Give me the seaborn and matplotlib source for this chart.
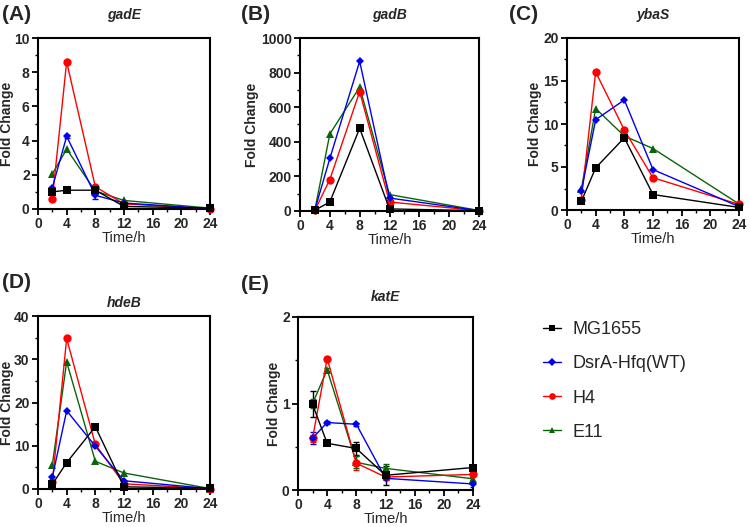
import numpy as np
import pandas as pd
import matplotlib
matplotlib.use("Agg")
import matplotlib.pyplot as plt
from matplotlib.ticker import MultipleLocator, AutoMinorLocator
from matplotlib.lines import Line2D
import seaborn as sns

sns.set_theme(style="ticks")
plt.rcParams['font.family'] = ['Liberation Sans', 'DejaVu Sans']

time_h = [2, 4, 8, 12, 24]
strains = ["MG1655", "DsrA-Hfq(WT)", "H4", "E11"]
colors = {"MG1655": "#000000", "DsrA-Hfq(WT)": "#0000ee", "H4": "#ff0000", "E11": "#0a640a"}
markers = {"MG1655": "s", "DsrA-Hfq(WT)": "D", "H4": "o", "E11": "^"}
msizes = {"MG1655": 6, "DsrA-Hfq(WT)": 4.5, "H4": 6, "E11": 6}

genes = ["gadE", "gadB", "ybaS", "hdeB", "katE"]
panel_labels = ["(A)", "(B)", "(C)", "(D)", "(E)"]
ymax = {"gadE": 10, "gadB": 1000, "ybaS": 20, "hdeB": 40, "katE": 2}
ystep = {"gadE": 2, "gadB": 200, "ybaS": 5, "hdeB": 10, "katE": 1}

gadE_MG1655 = [1.0, 1.1, 1.1, 0.15, 0.05]
gadE_DsrA = [1.25, 4.25, 0.8, 0.35, 0.02]
gadE_H4 = [0.6, 8.6, 1.3, 0.3, 0.02]
gadE_E11 = [2.05, 3.5, 1.05, 0.5, 0.05]

gadB_MG1655 = [5, 52, 478, 12, 2]
gadB_DsrA = [8, 304, 865, 75, 2]
gadB_H4 = [5, 182, 690, 52, 2]
gadB_E11 = [8, 445, 716, 95, 3]

ybaS_MG1655 = [1.0, 4.9, 8.4, 1.8, 0.3]
ybaS_DsrA = [2.2, 10.5, 12.8, 4.7, 0.4]
ybaS_H4 = [1.2, 16.05, 9.3, 3.75, 0.65]
ybaS_E11 = [2.4, 11.8, 8.6, 7.15, 0.7]

hdeB_MG1655 = [1.1, 6.1, 14.4, 0.5, 0.2]
hdeB_DsrA = [2.7, 18.1, 9.9, 1.9, 0.1]
hdeB_H4 = [1.6, 34.8, 10.3, 1.2, 0.1]
hdeB_E11 = [5.6, 29.4, 6.4, 3.7, 0.1]

katE_MG1655 = [0.99, 0.54, 0.48, 0.17, 0.26]
katE_DsrA = [0.60, 0.78, 0.76, 0.135, 0.07]
katE_H4 = [0.60, 1.52, 0.31, 0.15, 0.18]
katE_E11 = [1.00, 1.39, 0.32, 0.25, 0.13]

# error bars (SD) where visible
katE_err_MG1655 = [0.15, 0.02, 0.08, 0.11, 0.02]
katE_err_DsrA = [0.07, 0.02, 0.02, 0.02, 0.04]
katE_err_H4 = [0.04, 0.02, 0.08, 0.02, 0.03]
katE_err_E11 = [0.05, 0.02, 0.07, 0.05, 0.02]
gadE_err_DsrA = [0.05, 0.1, 0.2, 0.05, 0.01]

data = {
    "gadE": [gadE_MG1655, gadE_DsrA, gadE_H4, gadE_E11],
    "gadB": [gadB_MG1655, gadB_DsrA, gadB_H4, gadB_E11],
    "ybaS": [ybaS_MG1655, ybaS_DsrA, ybaS_H4, ybaS_E11],
    "hdeB": [hdeB_MG1655, hdeB_DsrA, hdeB_H4, hdeB_E11],
    "katE": [katE_MG1655, katE_DsrA, katE_H4, katE_E11],
}
errors = {
    "katE": [katE_err_MG1655, katE_err_DsrA, katE_err_H4, katE_err_E11],
    "gadE": [None, gadE_err_DsrA, None, None],
}

W, H = 750, 527
boxes = {  # left, right, top, bottom in pixels
    "gadE": (38, 210, 38, 209),
    "gadB": (300, 479, 38, 211),
    "ybaS": (567, 739, 38, 210),
    "hdeB": (38, 210, 316, 489),
    "katE": (298, 473, 317, 490),
}
ylabel_x = {"gadE": 14, "gadB": 259, "ybaS": 542, "hdeB": 14, "katE": 281}
title_y = {"gadE": 15, "gadB": 15, "ybaS": 15, "hdeB": 303, "katE": 297}
plabel_pos = {"gadE": (2, 14), "gadB": (241, 14), "ybaS": (509, 14),
              "hdeB": (2, 282), "katE": (241, 284)}

fig = plt.figure(figsize=(7.5, 5.27), dpi=100)

for gene, plabel in zip(genes, panel_labels):
    l, r, t, b = boxes[gene]
    ax = fig.add_axes([l / W, 1 - b / H, (r - l) / W, (b - t) / H])
    rows = []
    for s, vals in zip(strains, data[gene]):
        for x, v in zip(time_h, vals):
            rows.append({"Time": x, "Fold": v, "Strain": s})
    df = pd.DataFrame(rows)
    order = list(reversed(strains))
    for i, s in enumerate(order):
        sub = df[df["Strain"] == s]
        sns.lineplot(data=sub, x="Time", y="Fold", ax=ax, color=colors[s],
                     marker=markers[s], markersize=msizes[s], markeredgewidth=0,
                     linewidth=1.0, legend=False, zorder=3 + i, clip_on=False)
    if gene in errors:
        for s, vals, err in zip(strains, data[gene], errors[gene]):
            if err is None:
                continue
            ax.errorbar(time_h, vals, yerr=err, fmt="none", ecolor=colors[s],
                        elinewidth=1.0, capsize=2.5, capthick=1.0, zorder=2)
    ax.set_xlim(0, 24)
    ax.set_ylim(0, ymax[gene])
    ax.xaxis.set_major_locator(MultipleLocator(4))
    ax.xaxis.set_minor_locator(MultipleLocator(2))
    ax.yaxis.set_major_locator(MultipleLocator(ystep[gene]))
    ax.yaxis.set_minor_locator(AutoMinorLocator(2))
    ax.tick_params(which="major", direction="out", length=4.5, width=1.3,
                   labelsize=10, pad=1.5, color="black")
    ax.tick_params(which="minor", direction="out", length=2.5, width=1.0, color="black")
    for lab in ax.get_xticklabels() + ax.get_yticklabels():
        lab.set_fontweight("bold")
    for sp in ax.spines.values():
        sp.set_linewidth(1.5)
        sp.set_color("black")
        sp.set_visible(True)
    ax.set_xlabel("Time/h", fontsize=10.5, labelpad=0)
    ax.set_ylabel("Fold Change", fontsize=10, fontweight="bold")
    ax.yaxis.set_label_coords((ylabel_x[gene] - l) / (r - l), 0.5)
    ax.grid(False)
    fig.text((l + r) / 2 / W, 1 - title_y[gene] / H, gene, fontsize=10,
             fontstyle="italic", fontweight="bold", ha="center", va="center")
    px, py = plabel_pos[gene]
    fig.text(px / W, 1 - py / H, plabel, fontsize=15, fontweight="bold",
             ha="left", va="center")

handles = [Line2D([0], [0], color=colors[s], marker=markers[s], markersize=msizes[s] * 0.8,
                  markeredgewidth=0, linewidth=1.0) for s in strains]
fig.legend(handles, strains, loc="upper left", bbox_to_anchor=(536 / W, 1 - 314 / H),
           frameon=False, fontsize=13, handlelength=1.0, handletextpad=0.6,
           labelspacing=0.95, borderaxespad=0)

fig.savefig("out.png", dpi=100)
